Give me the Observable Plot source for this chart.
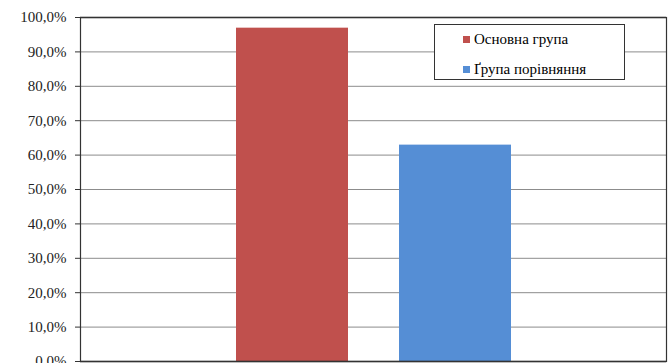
<!DOCTYPE html>
<html><head><meta charset="utf-8">
<script src="https://cdn.jsdelivr.net/npm/d3@7"></script>
<script src="https://cdn.jsdelivr.net/npm/@observablehq/plot@0.6"></script>
<style>
body{margin:0;background:#fff;overflow:hidden;}
#wrap{position:relative;width:672px;height:363px;overflow:hidden;}
#legend{position:absolute;left:434px;top:24px;width:191px;height:56px;border:1px solid #333;background:#fff;font-family:'Liberation Serif','Tinos','DejaVu Serif',serif;font-size:15px;color:#000;box-sizing:border-box;}
#legend .it{position:absolute;left:28px;display:flex;align-items:center;white-space:nowrap;}
#legend .sw{width:7px;height:7px;margin-right:4px;}
svg text{font-family:'Liberation Serif','Tinos','DejaVu Serif',serif;}
</style></head>
<body><div id="wrap"><div id="legend"></div></div>
<script>
const series = ["Основна група", "Ґрупа порівняння"];
const values = [96.9, 62.9];
const colors = ["#C0504D", "#558ED5"];
const ticks = [0,10,20,30,40,50,60,70,80,90,100];

const data = series.map((s,i)=>({series:s, value:values[i]}));
const fmt = d => d.toFixed(1).replace(".", ",") + "%";
const FONT = "'Liberation Serif','Tinos','DejaVu Serif',serif";

const chart = Plot.plot({
  width: 672, height: 375,
  marginLeft: 80, marginRight: 6, marginTop: 17, marginBottom: 14,
  style: {fontFamily: FONT, fontSize: "15px", background: "#fff", color:"#000"},
  x: {domain: series, paddingInner: 0.315, paddingOuter: 0.95, axis: null},
  y: {domain: [0,100], ticks: ticks, tickFormat: fmt, label: null},
  color: {domain: series, range: colors},
  marks: [
    Plot.gridY(ticks, {stroke: "#8c8c8c", strokeOpacity: 1, strokeWidth: 1}),
    Plot.barY(data, {x: "series", y: "value", fill: "series"}),
    Plot.axisY(ticks, {tickFormat: fmt, tickSize: 5, tickPadding: 9, fontSize: 15, stroke:"#333", fill:"#222"}),
    Plot.ruleY([100], {stroke: "#555", strokeWidth: 1.5}),
    Plot.ruleY([0], {stroke: "#333", strokeWidth: 1.5}),
    Plot.frame({stroke: "#333", strokeWidth: 1.2})
  ]
});
document.getElementById("wrap").prepend(chart);

const lg = document.getElementById("legend");
series.forEach((s,i)=>{
  const it = document.createElement("div");
  it.className = "it";
  it.style.top = (i===0 ? 6 : 36) + "px";
  const sw = document.createElement("span");
  sw.className = "sw"; sw.style.background = colors[i];
  const t = document.createElement("span"); t.textContent = s;
  it.append(sw, t);
  lg.append(it);
});
</script></body></html>
